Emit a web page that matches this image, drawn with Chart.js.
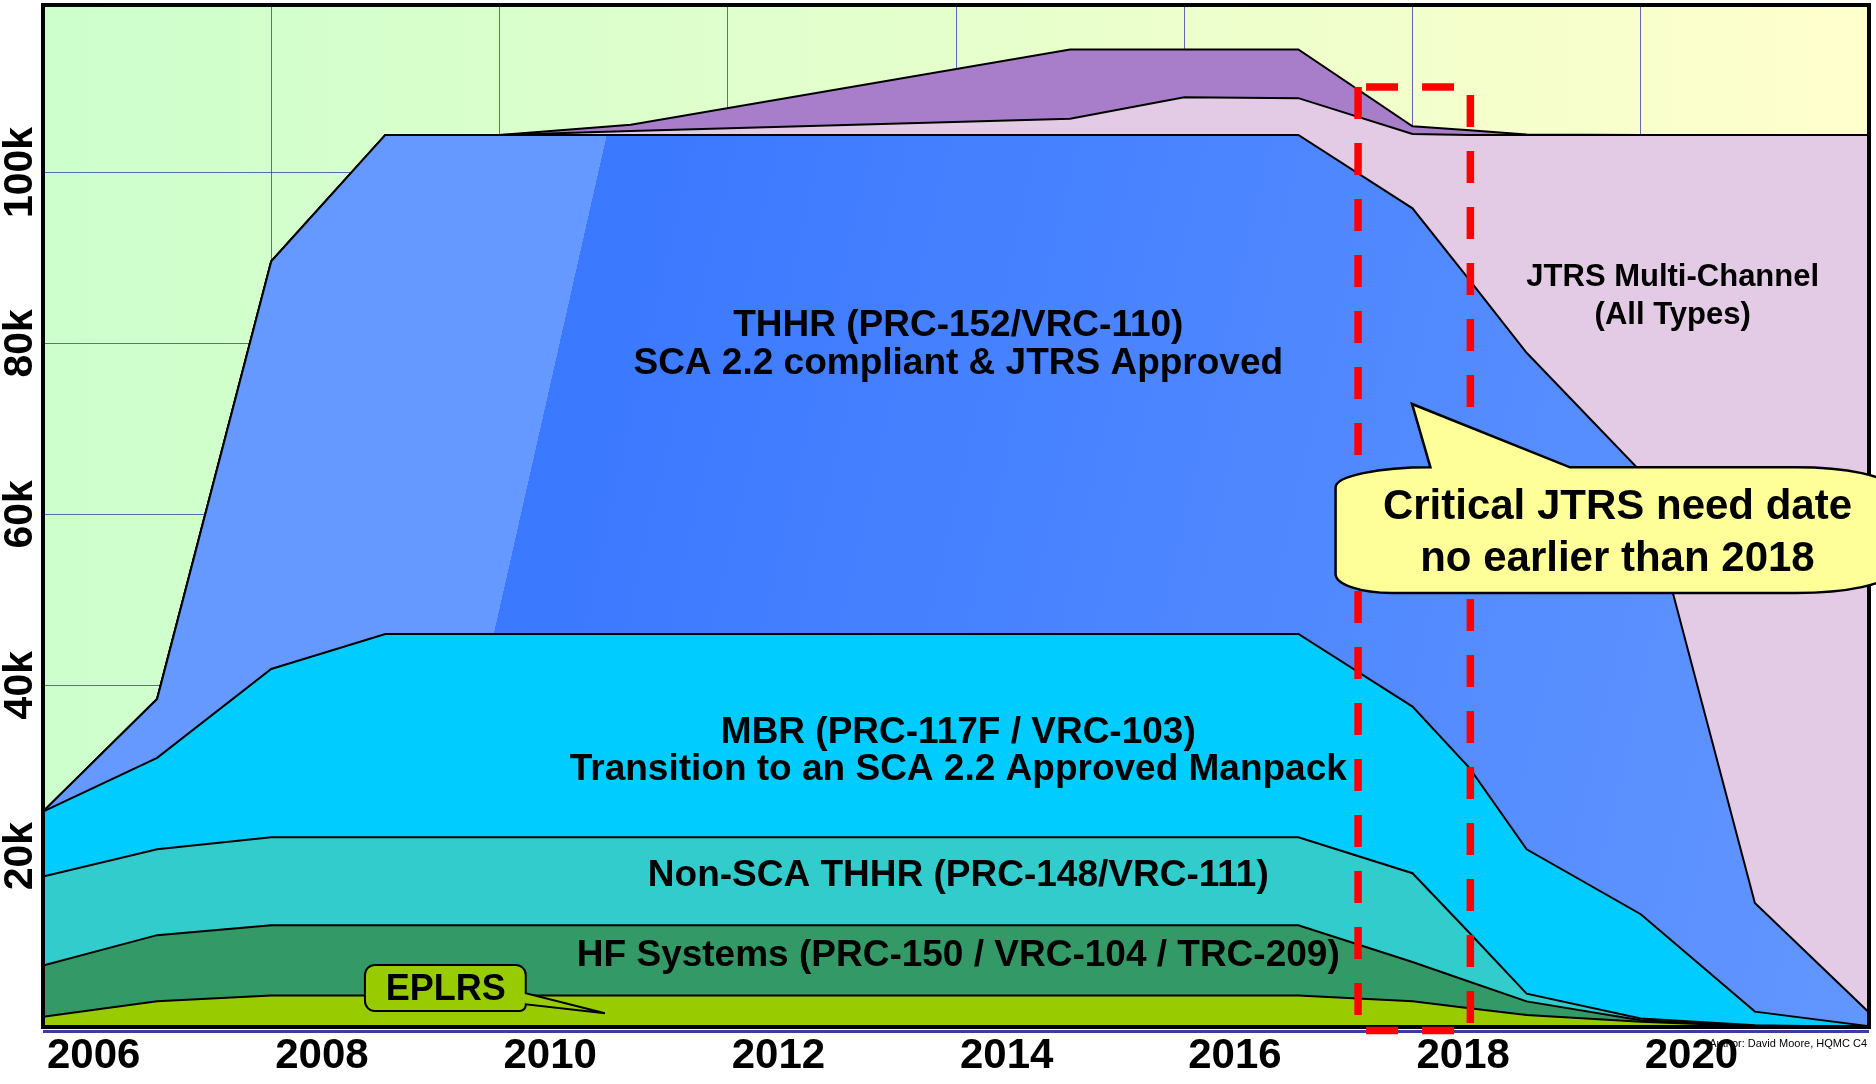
<!DOCTYPE html>
<html>
<head>
<meta charset="utf-8">
<title>Tactical radio inventory 2006-2022</title>
<script src="https://cdn.jsdelivr.net/npm/chart.js@4.4.1/dist/chart.umd.min.js"></script>
<style>
  html, body { margin: 0; padding: 0; background: #fff; }
  #wrap { width: 1876px; height: 1084px; }
</style>
</head>
<body>
<div id="wrap"><canvas id="radios" width="1876" height="1084"></canvas></div>
<script>
// ---- data (radios per family, stacked bottom to top) ----
var years = [2006, 2007, 2008, 2009, 2010, 2011.15, 2015, 2016, 2017, 2018, 2018.5, 2019, 2020, 2021, 2022];

var eplrs      = [1200, 3000, 3700, 3700, 3700, 3700, 3700, 3700, 3700, 3000, 2200, 1400, 600, 100, 0];
var hfSystems  = [6000, 7750, 8200, 8200, 8200, 8200, 8200, 8200, 8200, 4600, 3100, 1600, 200, 50, 0];
var nonScaThhr = [10400, 10050, 10300, 10300, 10300, 10300, 10300, 10300, 10300, 10400, 5700, 900, 200, 50, 0];
var mbr        = [7600, 10700, 19700, 23800, 23800, 23800, 23800, 23800, 23800, 19500, 19300, 16900, 12200, 1600, 100];
var thhr       = [0, 6900, 47700, 58400, 58400, 58400, 58400, 58400, 58400, 58300, 57100, 58100, 51800, 12700, 1600];
var jtrsMulti  = [0, 0, 0, 0, 0, 450, 1900, 4400, 4300, 8700, 17000, 25500, 39400, 89900, 102700];
var otherBand  = [0, 0, 0, 0, 0, 750, 8100, 5600, 5700, 900, 550, 50, 0, 0, 0];

var xTickYears  = [2006, 2008, 2010, 2012, 2014, 2016, 2018, 2020, 2022];
var xTickLabels = ['2006', '2008', '2010', '2012', '2014', '2016', '2018', '2020', ''];
var yTickValues = [0, 20000, 40000, 60000, 80000, 100000];
var yTickLabels = ['', '20k', '40k', '60k', '80k', '100k'];

var FONT = '"Liberation Sans", Arial, Helvetica, sans-serif';

// text placed on the areas (year, value)
var areaLabels = [
    {lines: ['THHR (PRC-152/VRC-110)', 'SCA 2.2 compliant & JTRS Approved'], x: 2014.02, y: 79780, size: 37, lh: 38},
    {lines: ['MBR (PRC-117F / VRC-103)', 'Transition to an SCA 2.2 Approved Manpack'], x: 2014.02, y: 32300, size: 37, lh: 37},
    {lines: ['Non-SCA THHR (PRC-148/VRC-111)'], x: 2014.02, y: 17670, size: 37, lh: 37},
    {lines: ['HF Systems (PRC-150 / VRC-104 / TRC-209)'], x: 2014.02, y: 8370, size: 37, lh: 37},
    {lines: ['JTRS Multi-Channel', '(All Types)'], x: 2020.28, y: 85520, size: 31, lh: 37.5}
];

var needCallout = {
    left: 2017.326, right: 2022.175, top: 65500, bottom: 50790,
    tip: [2017.996, 72910], base: [2018.157, 2019.38],
    lines: ['Critical JTRS need date', 'no earlier than 2018'],
    textX: 2019.796, textY: 57770
};
var eplrsCallout = {
    left: 2008.821, right: 2010.23, top: 7260, bottom: 1870,
    base: [3944, 2657], tip: [2010.924, 1603],
    text: 'EPLRS', textX: 2009.53, textY: 4365
};
var needWindow = {left: 2017.523, right: 2018.507, top: 110000, bottom: -410};

// edge of the darker THHR shading (year, value)
var thhrEdge = [[2009.95, 46000], [2010.94, 104400]];

function thhrFill(context) {
    var chart = context.chart;
    var area = chart.chartArea;
    var xs = chart.scales.x, ys = chart.scales.y;
    if (!area || !xs || !ys) return '#6699FF';
    var bx = xs.getPixelForValue(thhrEdge[0][0]), by = ys.getPixelForValue(thhrEdge[0][1]);
    var tx = xs.getPixelForValue(thhrEdge[1][0]), ty = ys.getPixelForValue(thhrEdge[1][1]);
    if (!isFinite(bx) || !isFinite(by) || !isFinite(tx) || !isFinite(ty)) return '#6699FF';
    var len = Math.hypot(tx - bx, ty - by);
    var nx = (by - ty) / len, ny = (tx - bx) / len;
    var back = 300;
    var far = (area.right - bx) * nx + (area.bottom - by) * ny;
    var g = chart.ctx.createLinearGradient(bx - nx * back, by - ny * back, bx + nx * far, by + ny * far);
    var edge = back / (back + far);
    g.addColorStop(0, '#6699FF');
    g.addColorStop(edge, '#6699FF');
    g.addColorStop(edge, '#3A78FF');
    g.addColorStop(1, '#6296FF');
    return g;
}

function series(label, values, color, fill) {
    return {
        label: label,
        data: years.map(function(x, i) { return {x: x, y: values[i]}; }),
        backgroundColor: color,
        borderColor: '#000',
        borderWidth: 2,
        pointRadius: 0,
        tension: 0,
        fill: fill
    };
}

function drawLines(ctx, lines, cx, cy, size, lh) {
    ctx.font = 'bold ' + size + 'px ' + FONT;
    ctx.textAlign = 'center';
    ctx.textBaseline = 'middle';
    ctx.fillStyle = '#000';
    var y0 = cy - (lines.length - 1) * lh / 2;
    lines.forEach(function(t, i) { ctx.fillText(t, cx, y0 + i * lh); });
}

function drawNeedCallout(ctx, xs, ys) {
    var c = needCallout, k = 0.5523;
    var L = xs.getPixelForValue(c.left), R = xs.getPixelForValue(c.right);
    var T = ys.getPixelForValue(c.top), B = ys.getPixelForValue(c.bottom);
    var b1 = xs.getPixelForValue(c.base[0]), b2 = xs.getPixelForValue(c.base[1]);
    var tipX = xs.getPixelForValue(c.tip[0]), tipY = ys.getPixelForValue(c.tip[1]);
    var rx = b1 - L, ry = 20, rxb = 56, ryb = 19;
    ctx.save();
    ctx.beginPath();
    ctx.moveTo(L, T + ry);
    ctx.bezierCurveTo(L, T + ry * (1 - k), L + rx * (1 - k), T, L + rx, T);
    ctx.lineTo(tipX, tipY);
    ctx.lineTo(b2, T);
    ctx.lineTo(R - 93, T);
    ctx.bezierCurveTo(R - 93 * (1 - k), T, R, T + ry * (1 - k), R, T + ry);
    ctx.lineTo(R, B - ry);
    ctx.bezierCurveTo(R, B - ry * (1 - k), R - 93 * (1 - k), B, R - 93, B);
    ctx.lineTo(L + rxb, B);
    ctx.bezierCurveTo(L + rxb * (1 - k), B, L, B - ryb * (1 - k), L, B - ryb);
    ctx.closePath();
    ctx.fillStyle = '#FFFF99';
    ctx.fill();
    ctx.lineWidth = 2.5;
    ctx.strokeStyle = '#000';
    ctx.stroke();
    drawLines(ctx, c.lines, xs.getPixelForValue(c.textX), ys.getPixelForValue(c.textY), 42, 51.4);
    ctx.restore();
}

function drawEplrsCallout(ctx, xs, ys) {
    var c = eplrsCallout, r = 10, rb = 6;
    var L = xs.getPixelForValue(c.left), R = xs.getPixelForValue(c.right);
    var T = ys.getPixelForValue(c.top), B = ys.getPixelForValue(c.bottom);
    var p1 = ys.getPixelForValue(c.base[0]), p2 = ys.getPixelForValue(c.base[1]);
    var tipX = xs.getPixelForValue(c.tip[0]), tipY = ys.getPixelForValue(c.tip[1]);
    ctx.save();
    ctx.beginPath();
    ctx.moveTo(L + r, T);
    ctx.arcTo(R, T, R, T + r, r);
    ctx.lineTo(R, p1);
    ctx.lineTo(tipX, tipY);
    ctx.lineTo(R, p2);
    ctx.arcTo(R, B, R - rb, B, rb);
    ctx.arcTo(L, B, L, B - r, r);
    ctx.arcTo(L, T, L + r, T, r);
    ctx.closePath();
    ctx.fillStyle = '#99CC00';
    ctx.fill();
    ctx.lineWidth = 2;
    ctx.strokeStyle = '#000';
    ctx.stroke();
    drawLines(ctx, [c.text], xs.getPixelForValue(c.textX), ys.getPixelForValue(c.textY), 36, 36);
    ctx.restore();
}

function drawNeedWindow(ctx, xs, ys) {
    var w = needWindow;
    var L = xs.getPixelForValue(w.left), R = xs.getPixelForValue(w.right);
    var T = ys.getPixelForValue(w.top), B = ys.getPixelForValue(w.bottom);
    ctx.save();
    ctx.strokeStyle = '#FF0000';
    ctx.lineWidth = 7.5;
    ctx.setLineDash([32, 24]);
    [[L, T, L, B], [R, T + 8, R, B], [L + 8, T, R + 4, T], [L + 8, B, R + 4, B]].forEach(function(s) {
        ctx.beginPath();
        ctx.moveTo(s[0], s[1]);
        ctx.lineTo(s[2], s[3]);
        ctx.stroke();
    });
    ctx.restore();
}

var decor = {
    id: 'decor',
    beforeDraw: function(chart) {
        var ctx = chart.ctx, a = chart.chartArea;
        var g = ctx.createLinearGradient(a.left, 0, a.right, 0);
        g.addColorStop(0, '#CCFFCC');
        g.addColorStop(1, '#FFFFCC');
        ctx.save();
        ctx.fillStyle = g;
        ctx.fillRect(a.left, a.top, a.right - a.left, a.bottom - a.top);
        ctx.restore();
    },
    afterDraw: function(chart) {
        var ctx = chart.ctx, a = chart.chartArea;
        var xs = chart.scales.x, ys = chart.scales.y;

        // frame
        ctx.save();
        ctx.strokeStyle = '#3C3CA0';
        ctx.lineWidth = 3;
        ctx.beginPath();
        ctx.moveTo(a.left, a.bottom + 4.5);
        ctx.lineTo(a.right, a.bottom + 4.5);
        ctx.stroke();
        ctx.strokeStyle = '#000';
        ctx.lineWidth = 4;
        ctx.strokeRect(a.left, a.top, a.right - a.left, a.bottom - a.top);
        ctx.restore();

        areaLabels.forEach(function(l) {
            drawLines(ctx, l.lines, xs.getPixelForValue(l.x), ys.getPixelForValue(l.y), l.size, l.lh);
        });

        drawNeedWindow(ctx, xs, ys);
        drawNeedCallout(ctx, xs, ys);
        drawEplrsCallout(ctx, xs, ys);

        ctx.save();
        ctx.font = '11px ' + FONT;
        ctx.textAlign = 'right';
        ctx.textBaseline = 'alphabetic';
        ctx.fillStyle = '#000';
        ctx.fillText('Author: David Moore, HQMC C4', a.right - 2, a.bottom + 20);
        ctx.restore();
    }
};

var gridColor = 'rgba(50,50,170,0.73)';

new Chart(document.getElementById('radios'), {
    type: 'line',
    data: {
        datasets: [
            series('EPLRS', eplrs, '#99CC00', 'origin'),
            series('HF Systems (PRC-150 / VRC-104 / TRC-209)', hfSystems, '#339966', '-1'),
            series('Non-SCA THHR (PRC-148/VRC-111)', nonScaThhr, '#33CCCC', '-1'),
            series('MBR (PRC-117F / VRC-103)', mbr, '#00CCFF', '-1'),
            series('THHR (PRC-152/VRC-110)', thhr, thhrFill, '-1'),
            series('JTRS Multi-Channel (All Types)', jtrsMulti, '#E3CBE5', '-1'),
            series('Other', otherBand, '#A87ECB', '-1')
        ]
    },
    options: {
        responsive: false,
        devicePixelRatio: 1,
        animation: false,
        layout: {padding: {top: 5, right: 7, left: 0, bottom: 0}},
        plugins: {
            legend: {display: false},
            tooltip: {enabled: false}
        },
        scales: {
            x: {
                type: 'linear',
                min: 2006,
                max: 2022,
                z: 1,
                afterBuildTicks: function(scale) {
                    scale.ticks = xTickYears.map(function(v) { return {value: v}; });
                },
                afterFit: function(scale) { scale.height = 57; },
                grid: {color: gridColor, lineWidth: 1, drawTicks: false},
                border: {display: false},
                ticks: {
                    align: 'start',
                    labelOffset: 4,
                    padding: 4,
                    maxRotation: 0,
                    autoSkip: false,
                    color: '#000',
                    font: {family: FONT, size: 42, weight: 'bold'},
                    callback: function(value, index) { return xTickLabels[index]; }
                }
            },
            y: {
                stacked: true,
                min: 0,
                max: 119600,
                z: 1,
                afterBuildTicks: function(scale) {
                    scale.ticks = yTickValues.map(function(v) { return {value: v}; });
                },
                afterFit: function(scale) { scale.width = 43; },
                grid: {color: gridColor, lineWidth: 1, drawTicks: false},
                border: {display: false},
                ticks: {
                    minRotation: 90,
                    maxRotation: 90,
                    crossAlign: 'center',
                    padding: -23,
                    autoSkip: false,
                    color: '#000',
                    font: {family: FONT, size: 41, weight: 'bold'},
                    callback: function(value, index) { return yTickLabels[index]; }
                }
            }
        }
    },
    plugins: [decor]
});
</script>
</body>
</html>
